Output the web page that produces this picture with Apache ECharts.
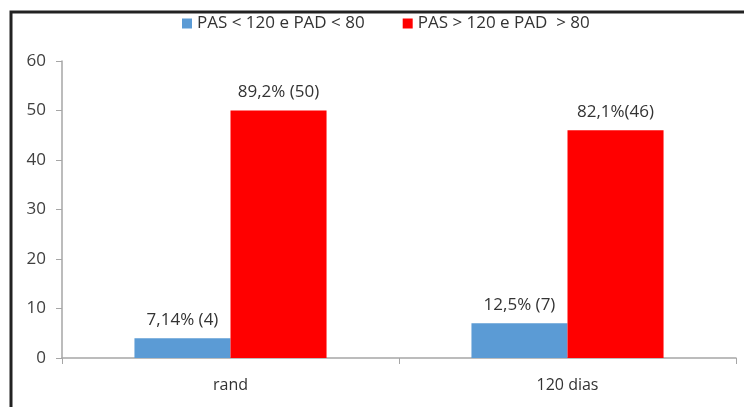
<!DOCTYPE html>
<html>
<head>
<meta charset="utf-8">
<script src="https://cdn.jsdelivr.net/npm/echarts@6/dist/echarts.min.js"></script>
<style>
  html, body { margin: 0; padding: 0; background: #fff; }
  #chart { width: 744px; height: 407px; }
</style>
</head>
<body>
<div id="chart"></div>
<script>
// data
var categories = ['rand', '120 dias'];
var seriesNames = ['PAS < 120 e PAD < 80', 'PAS > 120 e PAD  > 80'];
var normalValues = [4, 7];
var highValues = [50, 46];
var normalLabels = ['7,14% (4)', '12,5% (7)'];
var highLabels = ['89,2% (50)', '82,1%(46)'];
var yTicks = [0, 10, 20, 30, 40, 50, 60];

var font = 'Open Sans';
var chart = echarts.init(document.getElementById('chart'));

function barSeries(name, values, labels, color) {
    return {
        name: name,
        type: 'bar',
        data: values,
        barGap: '0%',
        barCategoryGap: '43%',
        itemStyle: { color: color },
        label: {
            show: true,
            position: 'top',
            distance: 10,
            color: '#333',
            fontFamily: font,
            fontSize: 17,
            formatter: function (p) { return labels[p.dataIndex]; }
        }
    };
}

var option = {
    animation: false,
    backgroundColor: '#fff',
    textStyle: { fontFamily: font },
    legend: {
        top: 10,
        left: 177,
        itemWidth: 10,
        itemHeight: 10,
        itemGap: 38,
        icon: 'rect',
        textStyle: { color: '#333', fontSize: 17, fontFamily: font },
        data: seriesNames
    },
    grid: { left: 62, right: 8, top: 61, bottom: 49 },
    xAxis: {
        type: 'category',
        data: categories,
        axisLine: { lineStyle: { color: '#a6a6a6', width: 1.5 } },
        axisTick: { show: true, length: 6, lineStyle: { color: '#a6a6a6' } },
        axisLabel: { color: '#333', fontSize: 16, fontFamily: font, margin: 19 }
    },
    yAxis: {
        type: 'value',
        min: yTicks[0],
        max: yTicks[yTicks.length - 1],
        interval: 10,
        splitLine: { show: false },
        axisLine: { show: true, lineStyle: { color: '#a6a6a6', width: 1.5 } },
        axisTick: { show: true, length: 6, lineStyle: { color: '#a6a6a6' } },
        axisLabel: { color: '#404040', fontSize: 17, fontFamily: font, margin: 16 }
    },
    graphic: [{
        type: 'polyline',
        shape: { points: [[11, 407], [11, 12], [744, 12]] },
        style: { stroke: '#222', lineWidth: 3, fill: null }
    }],
    series: [
        barSeries(seriesNames[0], normalValues, normalLabels, '#5b9bd5'),
        barSeries(seriesNames[1], highValues, highLabels, '#ff0000')
    ]
};
chart.setOption(option);
</script>
</body>
</html>
